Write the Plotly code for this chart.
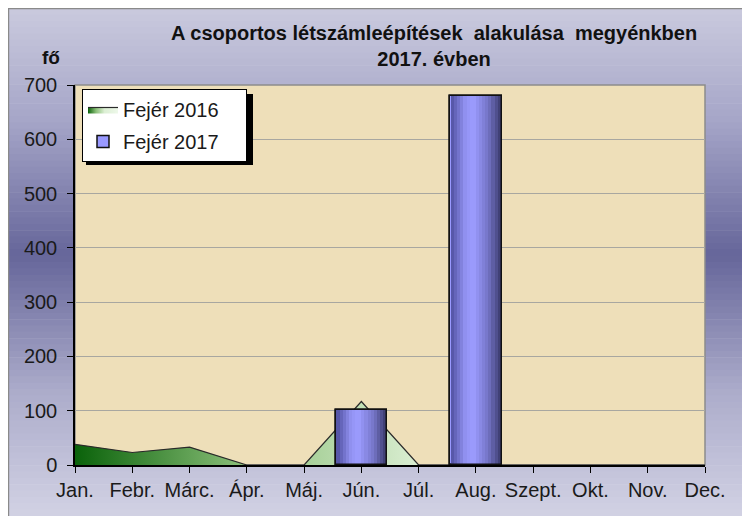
import plotly.graph_objects as go

# ---- data ----
months = ["Jan.", "Febr.", "Márc.", "Ápr.", "Máj.", "Jún.", "Júl.",
          "Aug.", "Szept.", "Okt.", "Nov.", "Dec."]
fejer_2016 = [38, 23, 33, 0, 0, 117, 0, 0, 0, 0, 0, 0]
fejer_2017 = [None, None, None, None, None, 102, None, 679, None, None, None, None]
y_ticks = [0, 100, 200, 300, 400, 500, 600, 700]

title_text = "A csoportos létszámleépítések  alakulása  megyénkben<br>2017. évben"
unit_text = "fő"

# ---- geometry helpers (page pixel -> paper); the page body has an 8px margin ----
OFF = 8
W, H = 742, 508
L, R, T, B = 67, 45, 77, 51
PW, PH = W - L - R, H - T - B


def xp(px):
    return (px - OFF - L) / PW


def yp(py):
    return (H - B - (py - OFF)) / PH


def hex2rgb(h):
    h = h.lstrip("#")
    return tuple(int(h[i:i + 2], 16) for i in (0, 2, 4))


def interp(stops, t):
    for (t0, c0), (t1, c1) in zip(stops[:-1], stops[1:]):
        if t0 <= t <= t1:
            f = (t - t0) / (t1 - t0) if t1 > t0 else 0
            a, b = hex2rgb(c0), hex2rgb(c1)
            return "rgb(%d,%d,%d)" % tuple(round(a[k] + (b[k] - a[k]) * f) for k in range(3))
    return stops[-1][1]


FONT = "Liberation Sans, Arial, sans-serif"

fig = go.Figure()

# area series (2016)
fig.add_trace(go.Scatter(
    x=months, y=fejer_2016, name="Fejér 2016\u00a0\u00a0\u00a0\u00a0",
    mode="lines", fill="tozeroy",
    line=dict(color="#2a2a2a", width=1.2),
    fillcolor="#9cc98a",
    fillgradient=dict(type="horizontal",
                      colorscale=[[0, "#0a620a"], [0.27, "#8cc07a"],
                                  [0.55, "#dcefd4"], [1, "#eef8ea"]]),
    legendgroup="a", xaxis="x", yaxis="y", hoverinfo="skip",
))

# bar series (2017) on overlaying axes so they sit above the area
BW = 0.9
fig.add_trace(go.Bar(
    x=months, y=fejer_2017, name="Fejér 2017",
    marker=dict(color="#9999ff", line=dict(color="#111111", width=1.5)),
    width=BW, legendgroup="b", xaxis="x2", yaxis="y2", hoverinfo="skip",
))
bar_stops = [(0, "#5050a0"), (0.3, "#9494f4"), (0.45, "#9c9cff"),
             (0.75, "#7474c6"), (1, "#3a3a6c")]
N = 16
inner = BW - 0.03
sw = inner / N
for i in range(N):
    t = (i + 0.5) / N
    fig.add_trace(go.Bar(
        x=months, y=fejer_2017, width=sw, offset=-inner / 2 + i * sw,
        marker=dict(color=interp(bar_stops, t), line=dict(width=0)),
        showlegend=False, xaxis="x2", yaxis="y2", hoverinfo="skip",
    ))
fig.add_trace(go.Bar(
    x=months, y=fejer_2017, width=BW,
    marker=dict(color="rgba(0,0,0,0)", line=dict(color="#111111", width=1.5)),
    showlegend=False, xaxis="x2", yaxis="y2", hoverinfo="skip",
))

# ---- background shapes ----
shapes = []
bg_stops = [(8, "#cacade"), (120, "#a6a6c8"), (255, "#66669a"),
            (390, "#ababca"), (516, "#d2d2e4")]
NS = 80
step = (516 - 8) / NS
for i in range(NS):
    y0 = 8 + i * step
    y1 = y0 + step + 0.6
    c = interp(bg_stops, y0 + step / 2)
    shapes.append(dict(type="rect", xref="paper", yref="paper", layer="below",
                       x0=xp(8), x1=xp(760), y0=yp(y1), y1=yp(y0),
                       fillcolor=c, line=dict(width=0)))
# outer frame
shapes.append(dict(type="rect", xref="paper", yref="paper", layer="below",
                   x0=xp(8.6), x1=xp(780), y0=yp(540), y1=yp(8.6),
                   fillcolor="rgba(0,0,0,0)", line=dict(color="#8a8a8a", width=1.2)))
# plot area (parchment)
shapes.append(dict(type="rect", xref="paper", yref="paper", layer="below",
                   x0=0, x1=1, y0=0, y1=1, fillcolor="#eedfb9",
                   line=dict(color="#8c8c8c", width=1.5)))
# legend shadow
shapes.append(dict(type="rect", xref="paper", yref="paper", layer="above",
                   x0=xp(86), x1=xp(253), y0=yp(165), y1=yp(94),
                   fillcolor="#000000", line=dict(width=0)))

annotations = [
    dict(text=title_text, xref="paper", yref="paper", x=xp(434), y=yp(46),
         xanchor="center", yanchor="middle", showarrow=False,
         font=dict(family=FONT, size=20, color="#111111", weight="bold")),
    dict(text=unit_text, xref="paper", yref="paper", x=xp(51), y=yp(57),
         xanchor="center", yanchor="middle", showarrow=False,
         font=dict(family=FONT, size=19, color="#111111", weight="bold")),
]

axis_common = dict(showgrid=False, zeroline=False)
fig.update_layout(
    width=W, height=H,
    margin=dict(l=L, r=R, t=T, b=B, pad=0),
    paper_bgcolor="white", plot_bgcolor="rgba(0,0,0,0)",
    barmode="overlay", bargap=0,
    font=dict(family=FONT, size=20, color="#1a1a1a"),
    showlegend=True,
    legend=dict(x=xp(82), y=yp(89), xanchor="left", yanchor="top",
                bgcolor="white", bordercolor="#000000", borderwidth=1,
                font=dict(family=FONT, size=20, color="#1a1a1a"),
                tracegroupgap=3, traceorder="grouped"),
    xaxis=dict(type="category", categoryorder="array", categoryarray=months,
               range=[0, 11], showline=True, linecolor="#000000", linewidth=1.8,
               ticks="outside", ticklen=6, tickcolor="#000000", tickwidth=1.2,
               tickfont=dict(size=20), **axis_common),
    yaxis=dict(range=[0, 700], tickvals=y_ticks, showgrid=True,
               gridcolor="#a8a7a0", gridwidth=1.2, zeroline=False,
               showline=True, linecolor="#000000", linewidth=1.5,
               ticks="outside", ticklen=6, tickcolor="#000000", tickwidth=1.2,
               ticklabelstandoff=6, tickfont=dict(size=20)),
    xaxis2=dict(type="category", categoryorder="array", categoryarray=months,
                range=[0, 11], overlaying="x", visible=False, **axis_common),
    yaxis2=dict(range=[0, 700], overlaying="y", visible=False, **axis_common),
    shapes=shapes, annotations=annotations,
)

fig.write_html("out.html")
